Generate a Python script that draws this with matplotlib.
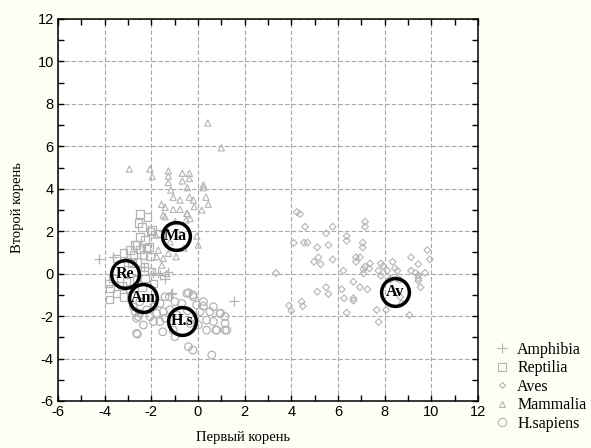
import matplotlib
matplotlib.use("Agg")
import matplotlib.pyplot as plt
from matplotlib.lines import Line2D
from matplotlib.ticker import MultipleLocator

plt.rcParams["axes.unicode_minus"] = False

# ---------------- data ----------------
amph_x = [-4.25, -3.65, -2.56, -1.91, -1.63, -1.41, -1.27, -1.70, -1.13, -1.16, 1.56, -2.30]
amph_y = [0.70, 0.77, -0.07, 0.04, -0.07, -0.27, 0.09, 0.01, -0.90, -0.95, -1.30, 0.30]

rept_x = [-2.49, -2.17, -2.41, -2.03, -1.70, -2.49, -2.27, -2.70, -2.91, -2.49, -2.09, -3.20,
          -2.77, -2.34, -3.49, -2.99, -2.60, -3.84, -3.77, -3.80, -3.49, -3.27, -2.63, -2.27,
          -1.91, -2.41, -2.91, -3.20, -2.06, -2.84, -2.20, -1.98, -2.63, -3.63, -2.30, -2.00,
          -3.06, -2.55]
rept_y = [2.81, 2.66, 2.21, 1.98, 1.90, 1.74, 1.58, 1.35, 1.11, 1.14, 1.27, 0.96,
          0.88, 0.88, 0.72, 0.56, 0.55, -0.46, -0.69, -1.21, -0.93, -0.58, -0.27, -0.22,
          -0.46, -0.62, -0.69, -1.09, 0.80, 0.48, 1.19, 2.06, 1.35, -0.22, 0.30, 0.10,
          -0.38, 2.40]

aves_x = [3.34, 4.24, 4.37, 4.59, 5.49, 5.77, 4.54, 4.69, 5.11, 5.59, 4.97, 5.16, 5.26, 5.77,
          5.11, 5.49, 5.59, 4.44, 4.49, 6.23, 6.37, 6.37, 7.16, 7.16, 7.06, 7.06, 6.77, 6.94,
          6.77, 7.16, 7.09, 7.37, 7.34, 7.09, 6.66, 6.16, 6.26, 6.66, 6.66, 6.37, 6.94, 7.26,
          7.66, 7.74, 8.06, 7.84, 7.94, 7.73, 7.84, 8.11, 8.34, 8.44, 8.54, 8.26, 8.54, 8.73,
          8.66, 9.06, 9.13, 9.33, 9.44, 9.73, 9.13, 9.83, 9.94, 9.44, 9.44, 9.44, 9.54, 8.23,
          8.66, 3.90, 4.00, 4.10]
aves_y = [0.03, 2.90, 2.81, 2.21, 1.90, 2.21, 1.46, 1.46, 1.24, 1.35, 0.56, 0.77, 0.45, 0.67,
          -0.85, -0.64, -0.96, -1.32, -1.53, 0.14, 1.77, 1.55, 2.45, 2.21, 1.46, 1.24, 0.77, 0.77,
          0.56, 0.33, 0.20, 0.48, 0.25, 0.01, -0.38, -0.74, -1.16, -1.16, -1.27, -1.84, -0.64, -0.74,
          -1.71, -2.28, -1.71, 0.48, 0.36, 0.14, -0.10, 0.14, 0.56, 0.25, 0.14, -0.22, -0.22, -1.40,
          -1.09, -1.95, 0.14, 0.04, 0.45, 0.04, 0.77, 1.11, 0.67, -0.07, -0.22, -0.33, -0.64, -0.29,
          -0.29, -1.50, -1.75, 1.45]

mamm_x = [0.42, 1.00, -2.94, -2.06, -1.96, -1.27, -1.27, -1.27, -0.67, -0.67, -0.37, -0.37,
          -1.17, -0.46, 0.23, 0.23, -1.06, -0.77, -0.37, -0.20, 0.34, 0.44, -1.56, -1.41,
          -1.06, -0.77, -0.16, 0.16, -1.49, -0.46, -1.41, -0.34, -0.48, -0.05, 0.01, -0.99,
          -0.51, -1.80, -1.70, -0.94, -1.27, -1.49, -1.34, -1.77, -1.20, -0.60, -1.55]
mamm_y = [7.10, 5.93, 4.93, 4.93, 4.57, 4.84, 4.60, 4.29, 4.73, 4.37, 4.73, 4.49,
          3.94, 4.05, 4.18, 4.05, 3.60, 3.47, 3.60, 3.47, 3.60, 3.27, 3.27, 3.13,
          3.03, 3.03, 3.16, 3.00, 2.76, 2.84, 2.68, 2.60, 2.84, 1.77, 1.35, 2.45,
          2.53, 1.82, 1.11, 0.80, 0.96, 0.72, 0.01, 0.80, 1.50, 1.20, 0.40]

hs_x = [-0.41, -0.22, -1.23, -0.99, -0.70, -0.06, 0.23, 0.66, -1.63, -1.91, -2.20, -2.49,
        -2.70, -2.56, -2.06, -1.77, -1.49, -1.41, -1.63, 0.09, 0.51, 0.94, 1.16, 1.16,
        1.16, 0.77, 0.37, 0.37, 0.66, 0.01, -0.34, -2.34, -2.63, -1.51, -1.06, -0.99,
        -0.41, -0.22, 0.59, -2.60, -1.91, -2.63, -2.77, -2.49, -1.91, -1.41, -0.48, -0.20,
        0.23, 0.97, 1.23, 0.80, -1.20, -0.90, -0.45]
hs_y = [-0.90, -1.00, -1.09, -1.32, -1.40, -1.48, -1.53, -1.56, -1.40, -1.56, -1.71, -1.87,
        -1.79, -2.02, -2.02, -1.87, -1.79, -2.10, -2.26, -1.79, -1.79, -1.87, -2.02, -2.34,
        -2.66, -2.66, -2.66, -2.19, -2.26, -2.42, -2.34, -2.42, -2.81, -2.74, -2.66, -2.97,
        -3.44, -3.60, -3.83, -2.85, -2.26, -2.10, -1.56, -1.32, -1.16, -1.09, -0.93, -1.09,
        -1.32, -1.87, -2.66, -2.66, -1.70, -1.95, -1.75]

centroid_labels = ["Ma", "Re", "Am", "H.s", "Av"]
centroid_x = [-0.96, -3.13, -2.34, -0.67, 8.44]
centroid_y = [1.77, -0.02, -1.16, -2.22, -0.85]

legend_labels = ["Amphibia", "Reptilia", "Aves", "Mammalia", "H.sapiens"]
tick_vals = list(range(-6, 13, 2))

# ---------------- plot ----------------
gray = "#b4b4b4"
fig = plt.figure(figsize=(5.91, 4.48), dpi=100, facecolor="#fefef4")
ax = fig.add_axes([58/591, 1-401/448, 420/591, 382/448])
ax.set_facecolor("white")

ax.scatter(hs_x, hs_y, s=30, marker="o", facecolors="none", edgecolors=gray, linewidths=0.9, zorder=3)
ax.scatter(aves_x, aves_y, s=12, marker="D", facecolors="none", edgecolors=gray, linewidths=0.8, zorder=3)
ax.scatter(mamm_x, mamm_y, s=20, marker="^", facecolors="none", edgecolors=gray, linewidths=0.8, zorder=3)
ax.scatter(rept_x, rept_y, s=30, marker="s", facecolors="none", edgecolors=gray, linewidths=0.9, zorder=3)
ax.scatter(amph_x, amph_y, s=45, marker="+", color=gray, linewidths=0.9, zorder=3)

for lab, cx, cy in zip(centroid_labels, centroid_x, centroid_y):
    ax.plot(cx, cy, marker="o", ms=20, mfc="none", mec="black", mew=2.5, zorder=5)
    ax.text(cx, cy, lab, ha="center", va="center", fontsize=11.5, fontweight="bold",
            family="Liberation Serif", zorder=6)

ax.set_xlim(-6, 12)
ax.set_ylim(-6, 12)
ax.set_xticks(tick_vals)
ax.set_yticks(tick_vals)
ax.xaxis.set_minor_locator(MultipleLocator(1))
ax.yaxis.set_minor_locator(MultipleLocator(1))
ax.tick_params(which="both", direction="in", top=True, right=True, length=4, width=1,
               labelsize=10.5, pad=3)
for lbl in ax.get_xticklabels() + ax.get_yticklabels():
    lbl.set_family("Liberation Sans")
ax.grid(True, which="major", color="#a8a8a8", linestyle=(0, (4, 2)), linewidth=0.8)
ax.set_axisbelow(True)
for sp in ax.spines.values():
    sp.set_linewidth(1.1)
    sp.set_color("black")

fig.text(243/591, 1-437/448, "Первый корень", ha="center", va="center",
         family="Liberation Serif", fontsize=10.5)
fig.text(18/591, 1-208/448, "Второй корень", ha="center", va="center", rotation=90,
         family="Liberation Serif", fontsize=10.5)

handles = [
    Line2D([], [], ls="none", marker="+", ms=7, color=gray, mew=0.8),
    Line2D([], [], ls="none", marker="s", ms=6, mfc="none", mec=gray, mew=0.8),
    Line2D([], [], ls="none", marker="D", ms=3, mfc="none", mec=gray, mew=0.8),
    Line2D([], [], ls="none", marker="^", ms=4, mfc="none", mec=gray, mew=0.8),
    Line2D([], [], ls="none", marker="o", ms=6, mfc="none", mec=gray, mew=0.8),
]
fig.legend(handles, legend_labels, loc="upper left", bbox_to_anchor=(494/591, 1-342/448),
           frameon=False, prop={"family": "Liberation Serif", "size": 11.5},
           handlelength=1.0, handletextpad=0.45, labelspacing=0.15, borderpad=0, borderaxespad=0)

fig.savefig("out.png", dpi=100, facecolor=fig.get_facecolor())
